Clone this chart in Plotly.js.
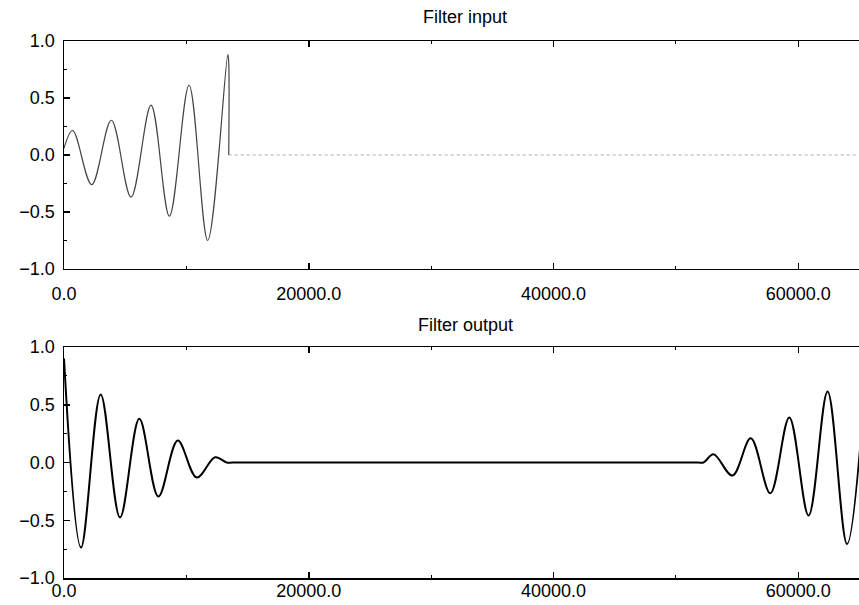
<!DOCTYPE html>
<html>
<head>
<meta charset="utf-8">
<script src="https://cdn.plot.ly/plotly-3.0.1.min.js"></script>
<style>
html,body{margin:0;padding:0;overflow:hidden;background:#fff;}
#chart{width:868px;height:605px;}
</style>
</head>
<body>
<div id="chart"></div>
<script>
// Filter input: start, extrema and truncation point
const inputX = [0, 708, 2264, 3866, 5477, 7112, 8611, 10217, 11744, 13380, 13445, 13460];
const inputY = [0.06, 0.215, -0.26, 0.305, -0.37, 0.437, -0.537, 0.612, -0.75, 0.88, 0.84, 0];
// Filter input: zero tail after the signal ends
const inputTailX = [13460, 65536];
const inputTailY = [0, 0];
// Filter output: start, extrema, flat section, extrema, end
const outputX = [0, 1390, 2997, 4578, 6155, 7712, 9295, 10848, 12344, 13300, 13800,
                 51800, 52260, 53078, 54620, 56120, 57713, 59266, 60843, 62396, 63985, 65536];
const outputY = [0.9, -0.736, 0.59, -0.476, 0.378, -0.295, 0.19, -0.13, 0.046, 0, 0,
                 0, 0, 0.072, -0.113, 0.21, -0.266, 0.39, -0.459, 0.615, -0.705, 0.8];
const xTickVals = [0, 20000, 40000, 60000];
const yTickVals = [-1.0, -0.5, 0.0, 0.5, 1.0];
const titles = ["Filter input", "Filter output"];

const font = {family: "Liberation Sans, Arial, Helvetica, sans-serif", size: 18, color: "#000"};

const traces = [
  {x: inputX, y: inputY, type: "scatter", mode: "lines", xaxis: "x", yaxis: "y",
   line: {color: "#444", width: 1.2, shape: "spline", smoothing: 1}, hoverinfo: "none"},
  {x: inputTailX, y: inputTailY, type: "scatter", mode: "lines", xaxis: "x", yaxis: "y",
   line: {color: "#aaa", width: 1, dash: "dot"}, hoverinfo: "none"},
  {x: outputX, y: outputY, type: "scatter", mode: "lines", xaxis: "x2", yaxis: "y2",
   line: {color: "#000", width: 2, shape: "spline", smoothing: 1}, hoverinfo: "none"}
];

function xa(anchor, standoff) {
  return {
    anchor: anchor, range: [0, 65536], tickvals: xTickVals, tickformat: ".1f",
    ticks: "inside", ticklen: 6, tickwidth: 1.5, tickcolor: "#000",
    showline: true, linecolor: "#000", linewidth: 1.5, mirror: "ticks",
    showgrid: false, zeroline: false, tickfont: font, ticklabelstandoff: standoff,
    minor: {ticks: "inside", dtick: 10000, ticklen: 3, tickcolor: "#000", tickwidth: 1, showgrid: false}
  };
}
function ya(anchor, domain) {
  return {
    anchor: anchor, domain: domain, range: [-1, 1], tickvals: yTickVals, tickformat: ".1f",
    ticks: "inside", ticklen: 6, tickwidth: 1.5, tickcolor: "#000",
    showline: true, linecolor: "#000", linewidth: 1.5, mirror: "ticks",
    showgrid: false, zeroline: false, tickfont: font, ticklabelstandoff: 4,
    minor: {ticks: "inside", dtick: 0.25, ticklen: 3, tickcolor: "#000", tickwidth: 1, showgrid: false}
  };
}

const layout = {
  width: 868, height: 605,
  margin: {l: 64, r: 2, t: 0, b: 0},
  paper_bgcolor: "#fff", plot_bgcolor: "#fff",
  showlegend: false,
  xaxis: xa("y", 8),
  yaxis: ya("x", [0.5554, 0.9322]),
  xaxis2: xa("y2", -4),
  yaxis2: ya("x2", [0.0446, 0.4264]),
  annotations: [
    {text: titles[0], xref: "paper", yref: "paper", x: 0.5, y: 0.972, xanchor: "center", yanchor: "middle", showarrow: false, font: font},
    {text: titles[1], xref: "paper", yref: "paper", x: 0.5, y: 0.463, xanchor: "center", yanchor: "middle", showarrow: false, font: font}
  ]
};

Plotly.newPlot("chart", traces, layout, {displayModeBar: false, staticPlot: true});
</script>
</body>
</html>
